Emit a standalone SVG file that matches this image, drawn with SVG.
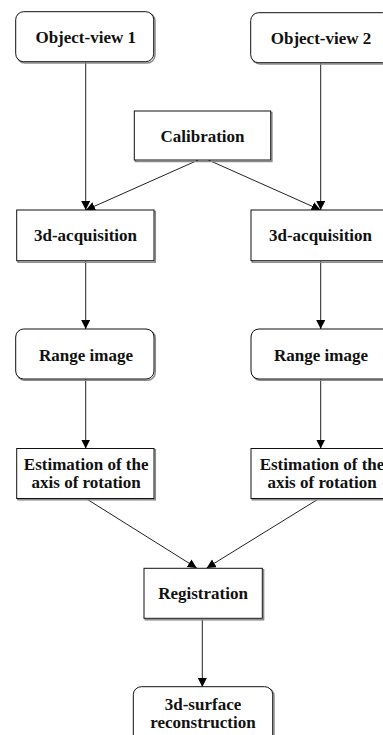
<svg xmlns="http://www.w3.org/2000/svg" width="383" height="735" viewBox="0 0 383 735">
<style>
.bg{fill:#fff}
.sh{fill:none;stroke:#8a8a8a;stroke-width:1.5}
.bx{fill:#fff;stroke:#111;stroke-width:1}
.t{font-family:"Liberation Serif","Times New Roman",serif;font-weight:bold;font-size:17px;fill:#111;text-anchor:middle}
.c{stroke:#222;stroke-width:1;fill:none;marker-end:url(#ah)}
</style>
<defs>
<marker id="ah" markerUnits="userSpaceOnUse" markerWidth="10" markerHeight="10" refX="9" refY="4.5" orient="auto">
<path d="M0,0 L9,4.5 L0,9 z" fill="#000"/>
</marker>
</defs>
<rect class="bg" x="0" y="0" width="383" height="735"/>
<g id="connectors">
<line class="c" x1="85.7" y1="62" x2="85.7" y2="210"/>
<line class="c" x1="320.7" y1="63" x2="320.7" y2="210"/>
<line class="c" x1="198.3" y1="160" x2="86" y2="210"/>
<line class="c" x1="208.3" y1="160" x2="320.5" y2="210"/>
<line class="c" x1="85.7" y1="261" x2="85.7" y2="329"/>
<line class="c" x1="320.7" y1="261" x2="320.7" y2="329"/>
<line class="c" x1="85.7" y1="379" x2="85.7" y2="448.5"/>
<line class="c" x1="320.7" y1="379" x2="320.7" y2="448.5"/>
<line class="c" x1="86.7" y1="499" x2="196.7" y2="568"/>
<line class="c" x1="318.3" y1="499" x2="206.7" y2="568"/>
<line class="c" x1="202.3" y1="619" x2="202.3" y2="687"/>
</g>
<g id="objview1">
<rect class="sh" x="17" y="13" width="138" height="50" rx="8"/>
<rect class="bx" x="15.7" y="11.7" width="138" height="50" rx="8"/>
<text class="t" x="85.7" y="43">Object-view 1</text>
</g>
<g id="objview2">
<rect class="sh" x="252" y="14" width="140" height="50" rx="8"/>
<rect class="bx" x="250.7" y="12.7" width="140" height="50" rx="8"/>
<text class="t" x="321" y="44">Object-view 2</text>
</g>
<g id="calibration">
<rect class="sh" x="135.5" y="112.5" width="136.4" height="49"/>
<rect class="bx" x="134.3" y="111" width="136.4" height="49"/>
<text class="t" x="202.5" y="141.5">Calibration</text>
</g>
<g id="acq1">
<rect class="sh" x="18" y="211.5" width="137.3" height="50.7"/>
<rect class="bx" x="16.7" y="210" width="137.3" height="50.7"/>
<text class="t" x="85.5" y="241">3d-acquisition</text>
</g>
<g id="acq2">
<rect class="sh" x="252.3" y="211.5" width="140" height="50.7"/>
<rect class="bx" x="251" y="210" width="140" height="50.7"/>
<text class="t" x="320.5" y="241">3d-acquisition</text>
</g>
<g id="range1">
<rect class="sh" x="17" y="330.3" width="138.3" height="50" rx="8"/>
<rect class="bx" x="15.7" y="329" width="138.3" height="50" rx="8"/>
<text class="t" x="86" y="361">Range image</text>
</g>
<g id="range2">
<rect class="sh" x="252.3" y="330.3" width="140" height="50" rx="8"/>
<rect class="bx" x="251" y="329" width="140" height="50" rx="8"/>
<text class="t" x="321" y="361">Range image</text>
</g>
<g id="est1">
<rect class="sh" x="18" y="449.8" width="137.3" height="50"/>
<rect class="bx" x="16.7" y="448.5" width="137.3" height="50"/>
<text class="t" x="86.2" y="470">Estimation of the</text>
<text class="t" x="86.2" y="488.3">axis of rotation</text>
</g>
<g id="est2">
<rect class="sh" x="252.3" y="449.8" width="140" height="50"/>
<rect class="bx" x="251" y="448.5" width="140" height="50"/>
<text class="t" x="322" y="470">Estimation of the</text>
<text class="t" x="322" y="488.3">axis of rotation</text>
</g>
<g id="registration">
<rect class="sh" x="145.3" y="569.8" width="118.3" height="50"/>
<rect class="bx" x="144" y="568.3" width="118.3" height="50"/>
<text class="t" x="203" y="599.3">Registration</text>
</g>
<g id="surface">
<rect class="sh" x="134.6" y="688" width="139.4" height="60" rx="8"/>
<rect class="bx" x="133.3" y="686.7" width="139.4" height="60" rx="8"/>
<text class="t" x="203" y="710">3d-surface</text>
<text class="t" x="203" y="728.3">reconstruction</text>
</g>
</svg>
